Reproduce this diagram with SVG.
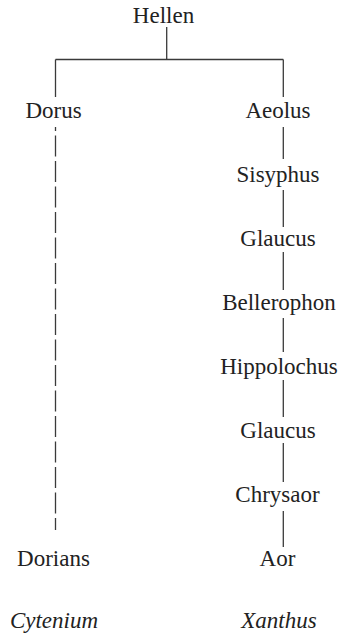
<svg xmlns="http://www.w3.org/2000/svg" width="341" height="638" viewBox="0 0 341 638">
  <style>
    .name { font-size: 23px; fill: #222; text-anchor: middle; }
    .place { font-style: italic; }
    .link { stroke: #3a3a3a; stroke-width: 1.3; fill: none; }
    .dash { stroke-dasharray: 21 4.5; stroke-dashoffset: 17; }
  </style>
  <rect width="341" height="638" fill="#fff"/>

  <!-- family tree connectors -->
  <g id="connectors">
    <line class="link" x1="166.7" y1="27" x2="166.7" y2="59.5"/>
    <line class="link" x1="55.5" y1="59.5" x2="283.3" y2="59.5"/>
    <line class="link" x1="55.5" y1="59.5" x2="55.5" y2="97"/>
    <line class="link" x1="283.3" y1="59.5" x2="283.3" y2="97"/>
    <line class="link dash" x1="55.5" y1="127" x2="55.5" y2="530"/>
    <line class="link" x1="283.3" y1="127" x2="283.3" y2="159"/>
    <line class="link" x1="283.3" y1="190" x2="283.3" y2="227"/>
    <line class="link" x1="283.3" y1="252" x2="283.3" y2="290"/>
    <line class="link" x1="283.3" y1="318" x2="283.3" y2="352"/>
    <line class="link" x1="283.3" y1="380" x2="283.3" y2="417"/>
    <line class="link" x1="283.3" y1="443" x2="283.3" y2="482"/>
    <line class="link" x1="283.3" y1="511" x2="283.3" y2="547"/>
  </g>

  <g font-family="Liberation Serif, DejaVu Serif, serif">
    <g id="hellen"><text class="name" x="163.5" y="22.5">Hellen</text></g>

    <!-- Dorian line -->
    <g id="dorus"><text class="name" x="53.5" y="118">Dorus</text></g>
    <g id="dorians"><text class="name" x="53.5" y="566">Dorians</text></g>
    <g id="cytenium"><text class="name place" x="54" y="628">Cytenium</text></g>

    <!-- Aeolid line -->
    <g id="aeolus"><text class="name" x="278" y="118">Aeolus</text></g>
    <g id="sisyphus"><text class="name" x="278" y="182">Sisyphus</text></g>
    <g id="glaucus-1"><text class="name" x="278" y="246">Glaucus</text></g>
    <g id="bellerophon"><text class="name" x="279" y="310">Bellerophon</text></g>
    <g id="hippolochus"><text class="name" x="279" y="374">Hippolochus</text></g>
    <g id="glaucus-2"><text class="name" x="278" y="438">Glaucus</text></g>
    <g id="chrysaor"><text class="name" x="277.5" y="502">Chrysaor</text></g>
    <g id="aor"><text class="name" x="277.5" y="566">Aor</text></g>
    <g id="xanthus"><text class="name place" x="279" y="628">Xanthus</text></g>
  </g>
</svg>
